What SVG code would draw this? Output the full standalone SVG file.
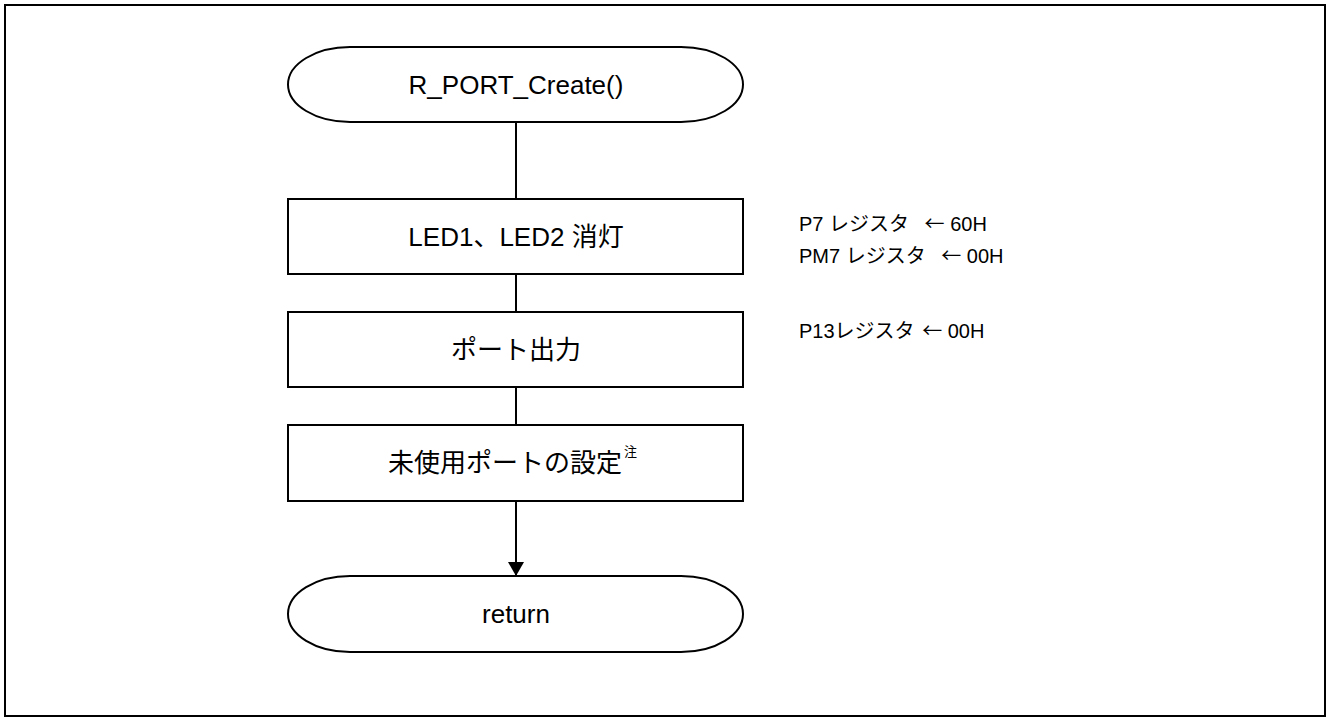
<svg xmlns="http://www.w3.org/2000/svg" width="1328" height="720" viewBox="0 0 1328 720">
<style>
.shape{fill:#fff;stroke:#000;stroke-width:2}
.t{font-family:"Liberation Sans","Noto Sans CJK JP",sans-serif;font-size:26px;fill:#000;text-anchor:middle}
.n{font-family:"Liberation Sans","Noto Sans CJK JP",sans-serif;font-size:20px;fill:#000}
.ar{font-family:"Noto Sans CJK JP",sans-serif}
.c{fill:none;stroke:#000;stroke-width:2}
</style>
<defs>
<marker id="arr" markerWidth="14" markerHeight="16" refX="14" refY="8" orient="auto" markerUnits="userSpaceOnUse">
<path d="M0,0 L14,8 L0,16 Z" fill="#000"/>
</marker>
</defs>
<rect x="5" y="5" width="1320" height="711" fill="#fff" stroke="#000" stroke-width="2"/>
<g id="connectors">
<line class="c" x1="516" y1="122" x2="516" y2="199"/>
<line class="c" x1="516" y1="274" x2="516" y2="312"/>
<line class="c" x1="516" y1="387" x2="516" y2="425"/>
<line class="c" x1="516" y1="501" x2="516" y2="576" marker-end="url(#arr)"/>
</g>
<g id="start">
<rect class="shape" x="288" y="47" width="455" height="75" rx="62" ry="37.5"/>
<text class="t" x="516" y="94">R_PORT_Create()</text>
</g>
<g id="led_off">
<rect class="shape" x="288" y="199" width="455" height="75"/>
<text class="t" x="516" y="246">LED1、LED2 消灯</text>
</g>
<g id="port_out">
<rect class="shape" x="288" y="312" width="455" height="75"/>
<text class="t" x="516" y="359">ポート出力</text>
</g>
<g id="unused">
<rect class="shape" x="288" y="425" width="455" height="76"/>
<text class="t" x="388" y="472" style="text-anchor:start">未使用ポートの設定<tspan font-size="13" dx="2" dy="-16">注</tspan></text>
</g>
<g id="return">
<rect class="shape" x="288" y="576" width="455" height="76" rx="62" ry="38"/>
<text class="t" x="516" y="623">return</text>
</g>
<g id="notes">
<text class="n" x="799" y="231">P7 レジスタ <tspan class="ar" dx="10">←</tspan> 60H</text>
<text class="n" x="799" y="263">PM7 レジスタ <tspan class="ar" dx="10">←</tspan> 00H</text>
<text class="n" x="799" y="338">P13レジスタ <tspan class="ar" dx="2">←</tspan> 00H</text>
</g>
</svg>
